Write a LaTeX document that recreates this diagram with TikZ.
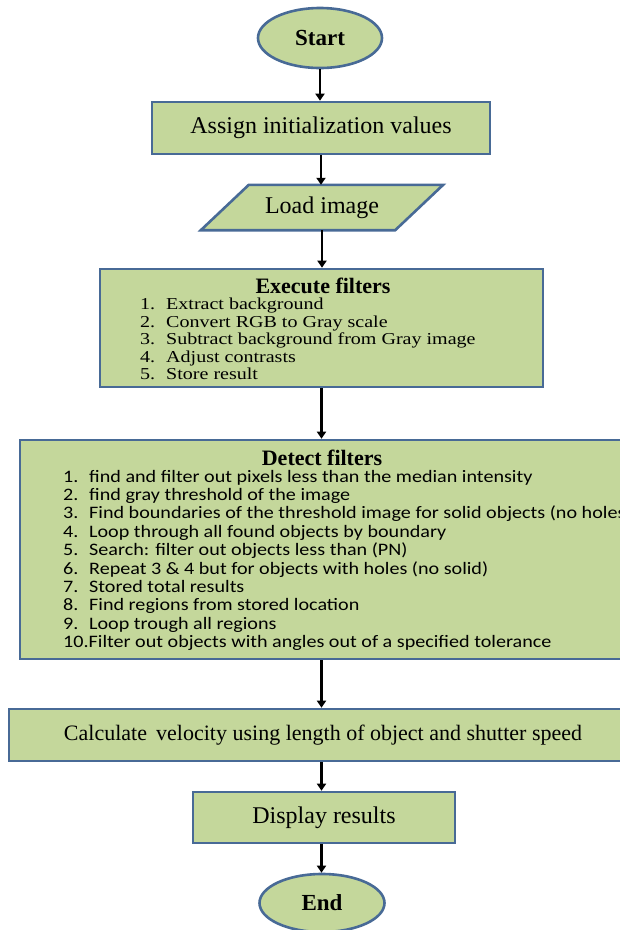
\documentclass[tikz,border=0pt]{standalone}
\usepackage{fontspec}
\setmainfont{Liberation Serif}
\newfontfamily\calibw{Carlito}[FakeStretch=1.15]
\newfontfamily\timesw{Liberation Serif}[FakeStretch=1.2]
\usetikzlibrary{shapes.geometric,arrows.meta,backgrounds}
\definecolor{boxfill}{RGB}{196,215,155}
\definecolor{boxline}{RGB}{72,106,150}
\begin{document}
\begin{tikzpicture}[x=1pt,y=-1pt,
  fc/.style={draw=boxline, fill=boxfill, line width=2.6pt, inner sep=0pt},
  rbox/.style={fc, rectangle},
  oval/.style={fc, ellipse, font=\bfseries\fontsize{23}{26}\selectfont},
  main/.style={font=\fontsize{24}{28}\selectfont},
  ttl/.style={font=\bfseries\fontsize{22}{25}\selectfont, inner sep=0pt},
  arr/.style={line width=2.4pt, -{Triangle[width=9pt,length=7pt]}}
]
\useasboundingbox (0,0) rectangle (620,930);
\clip (0,0) rectangle (620,930);

% Start
\node[oval, minimum width=124, minimum height=60] (start) at (320,38) {Start};
% Assign
\node[rbox, main, minimum width=338, minimum height=52] (assign) at (321,128) {Assign initialization values};
% Load image (parallelogram)
\node[main, minimum width=194, minimum height=45, inner sep=0pt] (load) at (322,207.5) {Load image};
\begin{scope}[on background layer]
\draw[fc] ([xshift=24pt]load.north west) -- ([xshift=24pt]load.north east)
  -- ([xshift=-24pt]load.south east) -- ([xshift=-24pt]load.south west) -- cycle;
\end{scope}
% Execute filters
\node[rbox, minimum width=443, minimum height=118] (exec) at (321.5,328) {};
\node[ttl, anchor=base] (exect) at (323,293) {Execute filters};
\node[anchor=base west, inner sep=0pt, font=\timesw\fontsize{16.7}{17.5}\selectfont] (execl) at (140,309.5)
{\begin{tabular}[t]{@{}p{26pt}@{}l@{}}
1. & Extract background\\
2. & Convert RGB to Gray scale\\
3. & Subtract background from Gray image\\
4. & Adjust contrasts\\
5. & Store result
\end{tabular}};
% Detect filters
\node[rbox, minimum width=640, minimum height=219] (detect) at (340,549.5) {};
\node[ttl, anchor=base] (detectt) at (322,465) {Detect filters};
\node[anchor=base west, inner sep=0pt, font=\calibw\fontsize{17.5}{18.4}\selectfont] (detectl) at (63,482)
{\begin{tabular}[t]{@{}p{26pt}@{}l@{}}
1. & find and filter out pixels less than the median intensity\\
2. & find gray threshold of the image\\
3. & Find boundaries of the threshold image for solid objects (no holes)\\
4. & Loop through all found objects by boundary\\
5. & Search: filter out objects less than (PN)\\
6. & Repeat 3 \& 4 but for objects with holes (no solid)\\
7. & Stored total results\\
8. & Find regions from stored location\\
9. & Loop trough all regions\\
\multicolumn{2}{@{}l@{}}{10.Filter out objects with angles out of a specified tolerance}
\end{tabular}};
% Calculate
\node[rbox, minimum width=652, minimum height=52] (calc) at (335,735) {};
\node[inner sep=0pt, font=\fontsize{22}{26}\selectfont] (calct) at (323,735) {Calculate\, velocity using length of object and shutter speed};
% Display
\node[rbox, main, minimum width=262, minimum height=51] (disp) at (324,817.5) {Display results};
% End
\node[oval, minimum width=125, minimum height=58] (end) at (322,903) {End};

% connectors
\draw[arr] (start.south) -- (start.south |- assign.north);
\draw[arr] (assign.south) -- (assign.south |- load.north);
\draw[arr] (load.south) -- (load.south |- exec.north);
\draw[arr] (exec.south) -- (exec.south |- detect.north);
\draw[arr] (exec.south |- detect.south) -- (exec.south |- calc.north);
\draw[arr] (exec.south |- calc.south) -- (exec.south |- disp.north);
\draw[arr] (exec.south |- disp.south) -- (exec.south |- end.north);
\end{tikzpicture}
\end{document}
